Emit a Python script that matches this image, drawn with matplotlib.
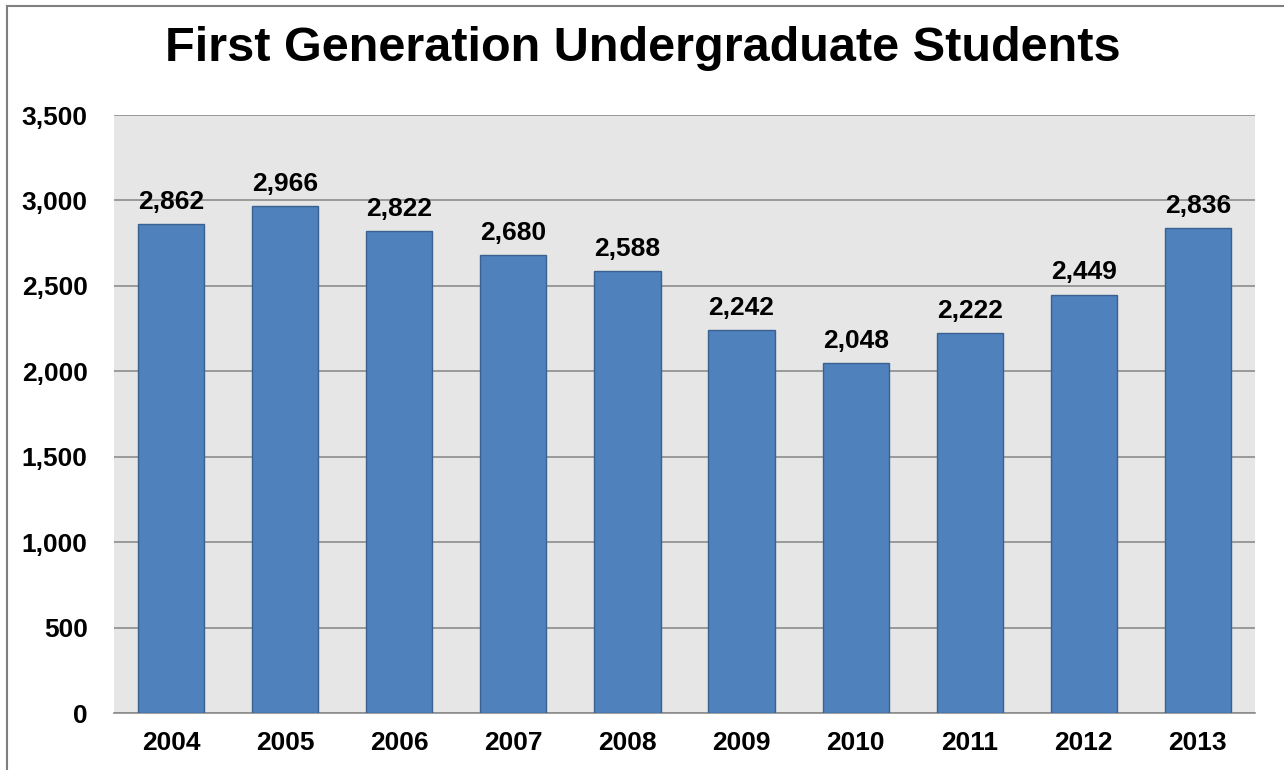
import numpy as np
import matplotlib
matplotlib.use('Agg')
import matplotlib.pyplot as plt
from matplotlib.ticker import FuncFormatter

plt.rcParams['font.family'] = ['Liberation Sans', 'DejaVu Sans']

years = ['2004', '2005', '2006', '2007', '2008', '2009', '2010', '2011', '2012', '2013']
students = [2862, 2966, 2822, 2680, 2588, 2242, 2048, 2222, 2449, 2836]

fig = plt.figure(figsize=(12.84, 7.70), dpi=100)
ax = fig.add_axes([0.0888, 0.074, 0.8886, 0.7766])

# partial frame around the chart (left and top edges only)
fig.add_artist(plt.Line2D([0.0055, 0.0055], [0, 0.992], color='#7f7f7f', lw=1.5, transform=fig.transFigure))
fig.add_artist(plt.Line2D([0.0055, 1.0], [0.992, 0.992], color='#7f7f7f', lw=1.5, transform=fig.transFigure))

x = np.arange(len(years))
ax.set_facecolor('#e6e6e6')
bars = ax.bar(x, students, width=0.58, color='#4f81bd', edgecolor='#3a6190', linewidth=1, zorder=3)

for xi, v in zip(x, students):
    ax.text(xi, v + 60, f'{v:,}', ha='center', va='bottom', fontsize=19, fontweight='bold', zorder=4)

ax.set_xlim(-0.5, len(years) - 0.5)
ax.set_ylim(0, 3500)
ax.set_yticks(np.arange(0, 3501, 500))
ax.yaxis.set_major_formatter(FuncFormatter(lambda v, p: f'{int(v):,}'))
ax.set_xticks(x)
ax.set_xticklabels(years)
ax.grid(axis='y', color='#8c8c8c', linewidth=1.2, zorder=1)
ax.tick_params(length=0, labelsize=19)
ax.tick_params(axis='y', pad=19)
ax.tick_params(axis='x', pad=13)
for lab in ax.get_xticklabels() + ax.get_yticklabels():
    lab.set_fontweight('bold')
for s in ['left', 'right', 'top']:
    ax.spines[s].set_visible(False)
ax.spines['bottom'].set_color('#8c8c8c')
ax.spines['bottom'].set_linewidth(1.2)

fig.text(0.501, 0.937, 'First Generation Undergraduate Students', ha='center', va='center',
         fontsize=35, fontweight='bold')

fig.savefig('out.png', dpi=100)
